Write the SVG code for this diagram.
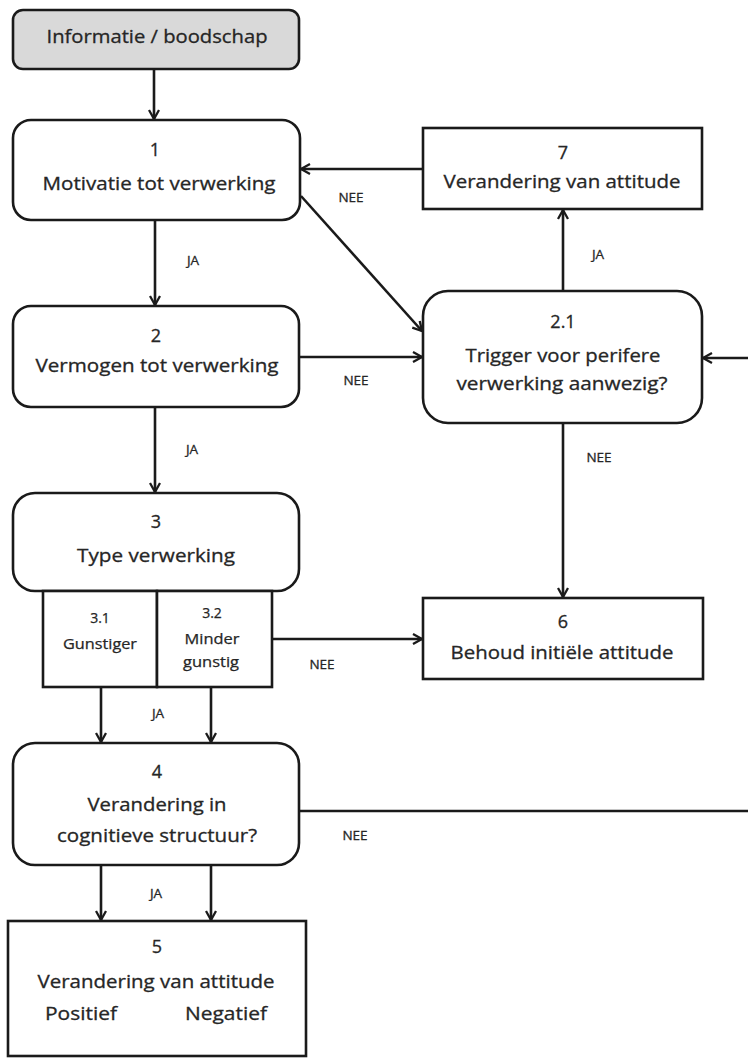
<svg xmlns="http://www.w3.org/2000/svg" width="748" height="1059" viewBox="0 0 748 1059">
<style>
.box{fill:#fff;stroke:#1a1a1a;stroke-width:2.6}
.grey{fill:#d9d9d9}
.t{font-family:"Open Sans","Liberation Sans",sans-serif;font-size:18px;fill:#262626;stroke:#262626;stroke-width:0.3;text-anchor:middle}
.s{font-family:"Open Sans","Liberation Sans",sans-serif;font-size:14px;fill:#262626;stroke:#262626;stroke-width:0.25;text-anchor:middle}
.l{font-family:"Open Sans","Liberation Sans",sans-serif;font-size:13.5px;fill:#262626;stroke:#262626;stroke-width:0.3;text-anchor:middle}
.c{fill:none;stroke:#1a1a1a;stroke-width:2.6}
</style>
<defs>
<marker id="ah" viewBox="0 0 12 12" refX="11" refY="6" markerWidth="12" markerHeight="12" markerUnits="userSpaceOnUse" orient="auto">
<polyline points="2,1 11,6 2,11" fill="none" stroke="#1a1a1a" stroke-width="2.3"/>
</marker>
</defs>
<g id="connectors">
<line class="c" x1="154" y1="69" x2="154" y2="119" marker-end="url(#ah)"/>
<line class="c" x1="155" y1="220" x2="155" y2="305" marker-end="url(#ah)"/>
<line class="c" x1="155" y1="407" x2="155" y2="492" marker-end="url(#ah)"/>
<line class="c" x1="423" y1="169" x2="301" y2="169" marker-end="url(#ah)"/>
<line class="c" x1="301" y1="196" x2="422" y2="331" marker-end="url(#ah)"/>
<line class="c" x1="299" y1="357" x2="422" y2="357" marker-end="url(#ah)"/>
<line class="c" x1="748" y1="358" x2="703" y2="358" marker-end="url(#ah)"/>
<line class="c" x1="563" y1="291" x2="563" y2="210" marker-end="url(#ah)"/>
<line class="c" x1="563" y1="423" x2="563" y2="597" marker-end="url(#ah)"/>
<line class="c" x1="272" y1="639" x2="422" y2="639" marker-end="url(#ah)"/>
<line class="c" x1="101" y1="687" x2="101" y2="742" marker-end="url(#ah)"/>
<line class="c" x1="211" y1="687" x2="211" y2="742" marker-end="url(#ah)"/>
<line class="c" x1="299" y1="811" x2="748" y2="811"/>
<line class="c" x1="101" y1="865" x2="101" y2="920" marker-end="url(#ah)"/>
<line class="c" x1="211" y1="865" x2="211" y2="920" marker-end="url(#ah)"/>
<text class="l" x="351" y="202">NEE</text>
<text class="l" x="193" y="265">JA</text>
<text class="l" x="356" y="385">NEE</text>
<text class="l" x="192" y="454">JA</text>
<text class="l" x="598" y="259">JA</text>
<text class="l" x="599" y="462">NEE</text>
<text class="l" x="322" y="669">NEE</text>
<text class="l" x="158" y="718">JA</text>
<text class="l" x="355" y="840">NEE</text>
<text class="l" x="156" y="898">JA</text>
</g>
<g id="node-info">
<rect class="box grey" x="13" y="10" width="286" height="59" rx="10"/>
<text class="t" x="157" y="43" textLength="221" lengthAdjust="spacingAndGlyphs">Informatie / boodschap</text>
</g>
<g id="node-1">
<rect class="box" x="13" y="120" width="287" height="100" rx="18"/>
<text class="t" x="155" y="156">1</text>
<text class="t" x="159" y="190" textLength="233" lengthAdjust="spacingAndGlyphs">Motivatie tot verwerking</text>
</g>
<g id="node-7">
<rect class="box" x="423" y="128" width="279" height="81"/>
<text class="t" x="563" y="159">7</text>
<text class="t" x="562" y="188" textLength="237" lengthAdjust="spacingAndGlyphs">Verandering van attitude</text>
</g>
<g id="node-2">
<rect class="box" x="13" y="306" width="286" height="101" rx="18"/>
<text class="t" x="156" y="342">2</text>
<text class="t" x="157" y="372" textLength="243" lengthAdjust="spacingAndGlyphs">Vermogen tot verwerking</text>
</g>
<g id="node-2-1">
<rect class="box" x="423" y="291" width="279" height="132" rx="25"/>
<text class="t" x="563" y="328">2.1</text>
<text class="t" x="563" y="362" textLength="195" lengthAdjust="spacingAndGlyphs">Trigger voor perifere</text>
<text class="t" x="562" y="390" textLength="211" lengthAdjust="spacingAndGlyphs">verwerking aanwezig?</text>
</g>
<g id="node-3">
<rect class="box" x="13" y="493" width="286" height="98" rx="22"/>
<text class="t" x="156" y="528">3</text>
<text class="t" x="156" y="562" textLength="158" lengthAdjust="spacingAndGlyphs">Type verwerking</text>
</g>
<g id="node-3-1">
<rect class="box" x="43" y="591" width="114" height="96"/>
<text class="s" x="100" y="623">3.1</text>
<text class="s" x="100" y="649" textLength="74" lengthAdjust="spacingAndGlyphs">Gunstiger</text>
</g>
<g id="node-3-2">
<rect class="box" x="157" y="591" width="115" height="96"/>
<text class="s" x="212" y="618">3.2</text>
<text class="s" x="212" y="644" textLength="55" lengthAdjust="spacingAndGlyphs">Minder</text>
<text class="s" x="211" y="667" textLength="56" lengthAdjust="spacingAndGlyphs">gunstig</text>
</g>
<g id="node-6">
<rect class="box" x="423" y="598" width="280" height="81"/>
<text class="t" x="563" y="628">6</text>
<text class="t" x="562" y="659" textLength="223" lengthAdjust="spacingAndGlyphs">Behoud initiële attitude</text>
</g>
<g id="node-4">
<rect class="box" x="13" y="743" width="286" height="122" rx="22"/>
<text class="t" x="157" y="778">4</text>
<text class="t" x="157" y="811" textLength="139" lengthAdjust="spacingAndGlyphs">Verandering in</text>
<text class="t" x="157" y="842" textLength="200" lengthAdjust="spacingAndGlyphs">cognitieve structuur?</text>
</g>
<g id="node-5">
<rect class="box" x="8" y="921" width="298" height="135"/>
<text class="t" x="157" y="953">5</text>
<text class="t" x="156" y="988" textLength="237" lengthAdjust="spacingAndGlyphs">Verandering van attitude</text>
<text class="t" x="81" y="1020" textLength="72" lengthAdjust="spacingAndGlyphs">Positief</text>
<text class="t" x="226" y="1020" textLength="82" lengthAdjust="spacingAndGlyphs">Negatief</text>
</g>
</svg>
